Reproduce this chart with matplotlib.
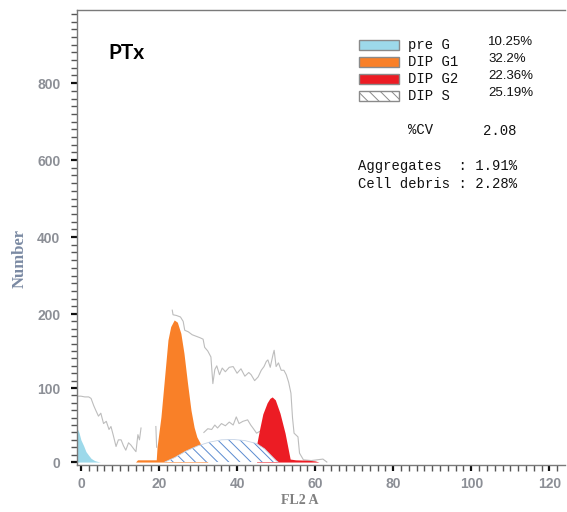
import numpy as np
import matplotlib
matplotlib.use("Agg")
import matplotlib.pyplot as plt
from matplotlib.patches import Rectangle

# raw histogram trace (grey), NaN = gap in the trace
trace_x = [-1, 0, 1, 2, 2.6, 3.3, 3.8, 4.5, 5.1, 5.8, 6.5, 7.2, 7.7, 8.3, 9, 9.6, 10.3,
           10.9, 11.5, 12.2, 12.8, 13.5, 14.1, 14.6, 15.0, 15.4, np.nan,
           19.2, 19.4, np.nan,
           23.4, 23.6, 24.5, 25.5, 26.2, 26.6, 27.5, 28.5, 29.5, 30.5, 31.3, 31.7, 32.5,
           33.3, 33.8, 34.3, 34.8, 35.5, 36.2, 37, 38, 39, 40, 41, 42, 43, 43.6, 44.5,
           45.4, 46.2, 46.9, 47.5, 47.9, 48.5, 49.2, 49.5, 50, 50.6, 51.3, 52, 52.6,
           53.2, 53.8, 54.2, 54.6, 55.6, 56, 57, 59, 62, 63]
trace_y = [89, 89, 88, 88, 86, 76, 70, 62, 66, 52, 55, 44, 48, 36, 21, 30, 30,
           22, 16, 26, 23, 18, 14, 37, 30, 46, np.nan,
           48, 20, np.nan,
           210, 199, 198, 196, 190, 178, 176, 172, 170, 168, 166, 155, 150,
           142, 106, 125, 130, 118, 127, 122, 128, 129, 120, 126, 116, 121, 118, 110,
           115, 124, 129, 136, 138, 128, 145, 151, 129, 134, 124, 124, 118,
           108, 93, 60, 39, 34, 12, 3, 2, 4, 0]
trace2_x = [31.5, 32.5, 33.5, 34.3, 35, 36, 37, 38, 39, 39.8, 40.5, 41.5, 42.7, 43.5,
            44.2, 45, 46, 47]
trace2_y = [40, 45, 44, 50, 46, 52, 49, 54, 50, 61, 52, 55, 57, 50, 45, 39, 42, 35]

# fitted components
preg_x = [-1, -0.5, 0, 0.7, 1.3, 2, 2.6, 3.5, 4.5, 5]
preg_y = [46, 40, 30, 22, 14, 9, 5, 2, 0.5, 0]
g1_x = [14, 14.5, 19.3, 19.5, 20.5, 21.3, 22.3, 23, 23.9, 24.7, 25.6, 26.4, 27.3,
        28.2, 29, 29.7, 30.5, 31.5, 32.5]
g1_y = [0, 3, 3, 20, 61, 107, 165, 183, 192, 189, 174, 147, 107,
        70, 47, 34, 26, 12, 0]
g2_x = [45.0, 45.1, 45.8, 46.6, 47.7, 48.4, 49.0, 49.8, 51.0, 52.3, 53.6, 55, 58, 60, 61]
g2_y = [0, 26, 45, 65, 80, 86, 88, 84, 66, 39, 4, 3, 2.5, 1.5, 0]
s_x = [21.5, 24, 27, 30, 33, 36, 39, 42, 45, 47, 48.5, 50, 50.5]
s_y = [0, 6, 15, 22, 27, 30, 30.5, 29, 25, 18, 10, 2, 0]

legend_labels = ["pre G", "DIP G1", "DIP G2", "DIP S"]
legend_pcts = ["10.25%", "32.2%", "22.36%", "25.19%"]
cv_value = "2.08"
aggregates = "1.91%"
debris = "2.28%"

W, H = 567, 512
fig = plt.figure(figsize=(W / 100, H / 100), dpi=100)
ax = fig.add_axes([77 / W, 1 - 465 / H, (565 - 77) / W, (465 - 10) / H])


def fwd(y):
    y = np.asarray(y, dtype=float)
    return np.where(y <= 200, y, 200 + (y - 200) * 0.52)


def inv(t):
    t = np.asarray(t, dtype=float)
    return np.where(t <= 200, t, 200 + (t - 200) / 0.52)


ax.set_yscale("function", functions=(fwd, inv))

ax.plot(trace_x, trace_y, color="#bdbdbd", lw=0.8, zorder=1)
ax.plot(trace2_x, trace2_y, color="#bdbdbd", lw=0.8, zorder=1)
ax.fill_between(preg_x, 0, preg_y, color="#9dd9ea", lw=0, zorder=2)
ax.fill_between(g1_x, 0, g1_y, color="#f98028", lw=0, zorder=2)
ax.fill_between(g2_x, 0, g2_y, color="#ec1c24", lw=0, zorder=2)
plt.rcParams["hatch.linewidth"] = 0.7
ax.fill_between(s_x, 0, s_y, facecolor="white", edgecolor="#5b8bd0",
                hatch="\\\\\\", lw=0, zorder=3)
ax.plot(s_x, s_y, color="#c5d3e6", lw=0.6, zorder=3)

ax.set_xlim(-1, 124)
ax.set_ylim(-4, 990)

ax.spines["right"].set_visible(False)
for side in ["left", "bottom", "top"]:
    ax.spines[side].set_color("#7a7a7a")
    ax.spines[side].set_linewidth(1.0)

lab_color = "#8c8f96"
ax.set_xticks([0, 20, 40, 60, 80, 100, 120])
ax.set_xticks(np.arange(0, 124, 2), minor=True)
ax.set_yticks([0, 100, 200, 400, 600, 800])
ax.set_yticks(list(range(0, 200, 10)) + list(range(200, 990, 20)), minor=True)
ax.tick_params(axis="both", which="major", direction="out", length=4, width=1.6,
               color="#111111", labelcolor=lab_color, labelsize=10)
ax.tick_params(axis="both", which="minor", direction="out", length=4, width=1.0,
               color="#555555")
ax.tick_params(axis="y", which="major", pad=8)
ax.tick_params(axis="x", which="major", pad=5)
for lbl in ax.get_xticklabels() + ax.get_yticklabels():
    lbl.set_fontfamily("Liberation Sans")
    lbl.set_fontweight("bold")

fig.text(20 / W, 1 - 258 / H, "Number", rotation=90, ha="center", va="center",
         family="Liberation Serif", fontweight="bold", fontsize=12, color="#7b8aa3")
fig.text(300 / W, 1 - 500 / H, "FL2 A", ha="center", va="center",
         family="Liberation Serif", fontweight="bold", fontsize=10, color="#808080")

fig.text(108 / W, 1 - 53 / H, "PTx", ha="left", va="center",
         family="Lato", fontweight="bold", fontsize=15, color="black")

# legend block
colors = ["#9dd9ea", "#f98028", "#ec1c24", "white"]
rows = [45, 62, 79, 96]
for lab, pct, col, py in zip(legend_labels, legend_pcts, colors, rows):
    r = Rectangle((359 / W, 1 - (py + 5) / H), 40 / W, 10 / H, transform=fig.transFigure,
                  facecolor=col, edgecolor="#8a8a8a", lw=1.0,
                  hatch="\\\\\\" if lab == "DIP S" else None)
    fig.add_artist(r)
    fig.text(408 / W, 1 - py / H, lab, ha="left", va="center",
             family="Liberation Mono", fontsize=10, color="#111111")
    fig.text(488 / W, 1 - (py - 3) / H, pct, ha="left", va="center",
             family="Liberation Sans", fontsize=9.5, color="#111111")

mono = dict(family="Liberation Mono", fontsize=10, color="#111111", va="center")
fig.text(408 / W, 1 - 130 / H, "%CV", ha="left", **mono)
fig.text(483 / W, 1 - 131 / H, cv_value, ha="left", **mono)
fig.text(358 / W, 1 - 166 / H, "Aggregates  : " + aggregates, ha="left", **mono)
fig.text(358 / W, 1 - 184 / H, "Cell debris : " + debris, ha="left", **mono)

fig.savefig("out.png", dpi=100)
